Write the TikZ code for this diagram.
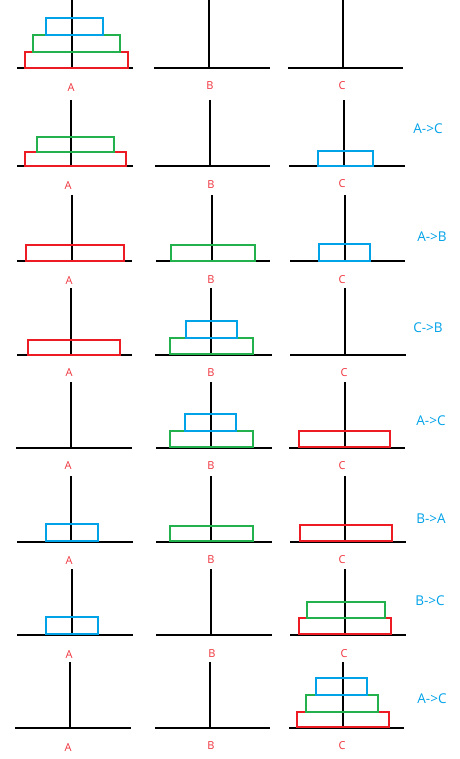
\documentclass[tikz,border=0pt]{standalone}
\usepackage{fontspec}
\setmainfont{Open Sans}
\definecolor{diskred}{RGB}{237,28,36}
\definecolor{diskgreen}{RGB}{34,177,76}
\definecolor{diskblue}{RGB}{0,162,232}
\definecolor{labelred}{RGB}{240,50,60}
\tikzset{
  rod/.style={line width=2pt, black},
  reddisk/.style={draw=diskred, line width=1.7pt},
  greendisk/.style={draw=diskgreen, line width=1.7pt},
  bluedisk/.style={draw=diskblue, line width=1.7pt},
  peglabel/.style={text=labelred, font=\fontsize{11}{13}\selectfont, inner sep=0pt},
  movelabel/.style={text=diskblue, font=\fontsize{13.5}{16}\selectfont, inner sep=0pt}
}
\begin{document}
\begin{tikzpicture}[x=1pt, y=-1pt]
		\useasboundingbox (0,0) rectangle (459,759);
		\fill[white] (0,0) rectangle (459,759);
		% row 1
		\draw[rod] (17,68) -- (133,68);
		\draw[rod] (154,68) -- (270,68);
		\draw[rod] (288,68) -- (403,68);
		\draw[rod] (72,0) -- (72,68);
		\draw[rod] (209,0) -- (209,68);
		\draw[rod] (343,0) -- (343,68);
		\draw[reddisk] (25,52) rectangle (128,68);
		\draw[greendisk] (33,35) rectangle (120,52);
		\draw[bluedisk] (46,18) rectangle (103,35);
		\node[peglabel] (a1) at (71,88) {A};
		\node[peglabel] (b1) at (210,86) {B};
		\node[peglabel] (c1) at (342,86) {C};
		% row 2
		\draw[rod] (17,166) -- (133,166);
		\draw[rod] (155,166) -- (270,166);
		\draw[rod] (289,166) -- (405,166);
		\draw[rod] (71,100) -- (71,166);
		\draw[rod] (210,100) -- (210,166);
		\draw[rod] (344,100) -- (344,166);
		\draw[reddisk] (25,152) rectangle (126,166);
		\draw[greendisk] (37,137) rectangle (114,152);
		\draw[bluedisk] (318,151) rectangle (373,166);
		\node[movelabel] (m2) at (428,129) {A->C};
		\node[peglabel] (a2) at (68,186) {A};
		\node[peglabel] (b2) at (211,185) {B};
		\node[peglabel] (c2) at (342,184) {C};
		% row 3
		\draw[rod] (17,261) -- (132,261);
		\draw[rod] (156,261) -- (270,261);
		\draw[rod] (290,261) -- (405,261);
		\draw[rod] (72,195) -- (72,261);
		\draw[rod] (212,195) -- (212,261);
		\draw[rod] (345,195) -- (345,261);
		\draw[reddisk] (26,245) rectangle (124,261);
		\draw[greendisk] (171,245) rectangle (255,261);
		\draw[bluedisk] (319,244) rectangle (370,261);
		\node[movelabel] (m3) at (432,237) {A->B};
		\node[peglabel] (a3) at (69,281) {A};
		\node[peglabel] (b3) at (211,280) {B};
		\node[peglabel] (c3) at (342,280) {C};
		% row 4
		\draw[rod] (17,355) -- (132,355);
		\draw[rod] (155,355) -- (272,355);
		\draw[rod] (290,355) -- (406,355);
		\draw[rod] (71,288) -- (71,355);
		\draw[rod] (211,288) -- (211,355);
		\draw[rod] (345,288) -- (345,355);
		\draw[reddisk] (28,340) rectangle (120,355);
		\draw[greendisk] (170,338) rectangle (253,354);
		\draw[bluedisk] (186,321) rectangle (237,338);
		\node[movelabel] (m4) at (428,328) {C->B};
		\node[peglabel] (a4) at (69,373) {A};
		\node[peglabel] (b4) at (211,373) {B};
		\node[peglabel] (c4) at (344,373) {C};
		% row 5
		\draw[rod] (16,448) -- (132,448);
		\draw[rod] (156,448) -- (272,448);
		\draw[rod] (289,448) -- (405,448);
		\draw[rod] (71,382) -- (71,448);
		\draw[rod] (211,382) -- (211,448);
		\draw[rod] (345,382) -- (345,448);
		\draw[greendisk] (170,431) rectangle (253,447);
		\draw[bluedisk] (185,414) rectangle (236,431);
		\draw[reddisk] (299,431) rectangle (390,447);
		\node[movelabel] (m5) at (431,421) {A->C};
		\node[peglabel] (a5) at (68,466) {A};
		\node[peglabel] (b5) at (211,466) {B};
		\node[peglabel] (c5) at (342,466) {C};
		% row 6
		\draw[rod] (17,542) -- (133,542);
		\draw[rod] (156,542) -- (272,542);
		\draw[rod] (290,542) -- (406,542);
		\draw[rod] (71,476) -- (71,542);
		\draw[rod] (211,476) -- (211,542);
		\draw[rod] (345,476) -- (345,542);
		\draw[bluedisk] (46,524) rectangle (98,541);
		\draw[greendisk] (170,526) rectangle (253,541);
		\draw[reddisk] (300,525) rectangle (392,541);
		\node[movelabel] (m6) at (431,519) {B->A};
		\node[peglabel] (a6) at (69,561) {A};
		\node[peglabel] (b6) at (211,560) {B};
		\node[peglabel] (c6) at (342,560) {C};
		% row 7
		\draw[rod] (17,635) -- (133,635);
		\draw[rod] (156,635) -- (272,635);
		\draw[rod] (290,635) -- (406,635);
		\draw[rod] (72,569) -- (72,635);
		\draw[rod] (211,569) -- (211,635);
		\draw[rod] (345,569) -- (345,635);
		\draw[bluedisk] (46,617) rectangle (98,634);
		\draw[reddisk] (299,618) rectangle (391,634);
		\draw[greendisk] (307,602) rectangle (385,618);
		\node[movelabel] (m7) at (430,601) {B->C};
		\node[peglabel] (a7) at (69,655) {A};
		\node[peglabel] (b7) at (212,654) {B};
		\node[peglabel] (c7) at (344,654) {C};
		% row 8
		\draw[rod] (15,728) -- (131,728);
		\draw[rod] (155,728) -- (270,728);
		\draw[rod] (289,728) -- (404,728);
		\draw[rod] (70,662) -- (70,728);
		\draw[rod] (210,662) -- (210,728);
		\draw[rod] (343,662) -- (343,728);
		\draw[reddisk] (297,712) rectangle (389,727);
		\draw[greendisk] (306,695) rectangle (378,712);
		\draw[bluedisk] (316,678) rectangle (367,695);
		\node[movelabel] (m8) at (432,699) {A->C};
		\node[peglabel] (a8) at (68,748) {A};
		\node[peglabel] (b8) at (211,746) {B};
		\node[peglabel] (c8) at (342,746) {C};
	\end{tikzpicture}
\end{document}
